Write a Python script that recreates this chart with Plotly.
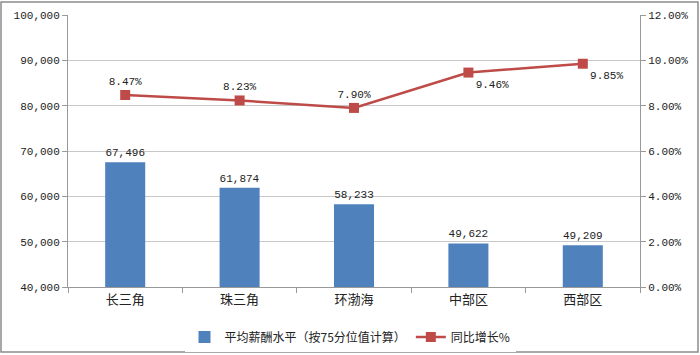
import plotly.graph_objects as go

categories = ["长三角", "珠三角", "环渤海", "中部区", "西部区"]
salary = [67496, 61874, 58233, 49622, 49209]
growth = [8.47, 8.23, 7.90, 9.46, 9.85]
salary_labels = ["67,496", "61,874", "58,233", "49,622", "49,209"]
growth_labels = ["8.47%", "8.23%", "7.90%", "9.46%", "9.85%"]
growth_pos = ["top center", "top center", "top center", "bottom right", "bottom right"]
left_ticks = [40000, 50000, 60000, 70000, 80000, 90000, 100000]
left_ticktext = ["40,000", "50,000", "60,000", "70,000", "80,000", "90,000", "100,000"]
right_ticks = [0, 2, 4, 6, 8, 10, 12]
right_ticktext = ["0.00%", "2.00%", "4.00%", "6.00%", "8.00%", "10.00%", "12.00%"]

FONT = "Liberation Mono, Noto Sans CJK SC"
CJK = "Noto Sans CJK SC"

fig = go.Figure()
fig.add_trace(go.Bar(
    x=categories, y=salary, name="平均薪酬水平（按75分位值计算）",
    marker=dict(color="#4F81BD", line=dict(width=0)),
    width=0.35,
    text=salary_labels, textposition="outside", cliponaxis=False,
    textfont=dict(family=FONT, size=11, color="#222"),
))
fig.add_trace(go.Scatter(
    x=categories, y=growth, name="同比增长%", yaxis="y2",
    mode="lines+markers+text",
    line=dict(color="#BE4B48", width=2.5),
    marker=dict(symbol="square", size=10, color="#BE4B48"),
    text=growth_labels, textposition=growth_pos, cliponaxis=False,
    textfont=dict(family=FONT, size=11, color="#222"),
))

fig.update_layout(
    width=700, height=355,
    margin=dict(l=68, r=60, t=15, b=68, autoexpand=False),
    paper_bgcolor="white", plot_bgcolor="white",
    font=dict(family=FONT, size=11, color="#222"),
    showlegend=True,
    legend=dict(orientation="h", x=0.5, xanchor="center", xref="container",
                y=(355 - 337) / 355, yanchor="middle", yref="container",
                font=dict(family=CJK, size=12, color="#222"), itemwidth=30),
    bargap=0.65,
    xaxis=dict(
        showline=True, linecolor="#999", linewidth=1,
        ticks="outside", tickson="boundaries", ticklen=5, tickcolor="#999",
        tickfont=dict(family=CJK, size=13, color="#222"),
        showgrid=False,
    ),
    yaxis=dict(
        range=[40000, 100000], tickvals=left_ticks, ticktext=left_ticktext,
        showline=True, linecolor="#999", linewidth=1,
        ticks="outside", ticklen=5, tickcolor="#999",
        showgrid=True, gridcolor="#c8c8c8", gridwidth=1,
        zeroline=False,
        tickfont=dict(family=FONT, size=11, color="#222"),
    ),
    yaxis2=dict(
        range=[0, 12], tickvals=right_ticks, ticktext=right_ticktext,
        overlaying="y", side="right",
        showline=True, linecolor="#999", linewidth=1,
        ticks="outside", ticklen=5, tickcolor="#999",
        showgrid=False, zeroline=False,
        tickfont=dict(family=FONT, size=11, color="#222"),
    ),
    shapes=[dict(type="rect", xref="paper", yref="paper",
                 x0=-67/572, x1=(698-68)/572, y0=-(352-287)/272, y1=(287-2)/272,
                 line=dict(color="#8c8c8c", width=1.5), layer="below")],
)

fig.write_html("out.html")
